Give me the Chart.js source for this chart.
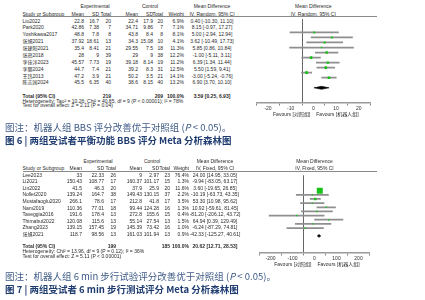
<!DOCTYPE html>
<html><head><meta charset="utf-8">
<script src="https://cdn.jsdelivr.net/npm/chart.js@4"></script>
<style>
html,body{margin:0;padding:0;}
body{width:425px;height:300px;background:#fff;position:relative;overflow:hidden;font-family:"Liberation Sans",Arial,"Noto Sans CJK SC",sans-serif;}
.t{position:absolute;font-size:5px;color:#2a2a2a;white-space:nowrap;line-height:1;}
.b{font-weight:bold;}
.cap{position:absolute;font-family:"Noto Sans CJK SC","Noto Sans",sans-serif;font-size:9.5px;white-space:nowrap;line-height:1;transform:translateY(-50%);}
.c1{color:#3e5a86;}
.c2{color:#1f3c70;font-weight:bold;}
.rule{position:absolute;height:0.8px;background:#8a8a8a;}
canvas{position:absolute;}
</style>
</head><body>
<canvas id="f6" width="140" height="100" style="left:240px;top:16.5px;"></canvas>
<canvas id="f7" width="140" height="96" style="left:240px;top:170.8px;"></canvas>
<script>
// ---------- Figure 6 data (BBS, random effects) ----------
const studies6 = ["Liu2022","Park2020","Yoshikawa2017","张旭2021","张建阳2021","张燕2018","李佳洋2023","李丽2024","王玮2013","陈志国2024"];
const expMean6 = ["22.8","42.86","48.8","37.92","35.4","28","45.57","44.7","47.2","45.5"];
const expSD6   = ["16.7","7.38","7.8","18.61","8.41","9","7.73","7.4","3.9","6.35"];
const expN6    = ["20","7","8","13","21","39","19","21","21","40"];
const ctlMean6 = ["22.4","34.71","43.8","34.3","29.55","29","39.18","39.2","50.2","38.6"];
const ctlSD6   = ["17.9","9.86","8.4","15.08","7.5","9","8.14","8.3","3.5","8.15"];
const ctlN6    = ["20","7","8","10","18","38","19","31","21","40"];
const weight6  = [6.9,7.1,8.1,4.1,11.3,12.2,11.2,12.5,14.1,13.2];
const md6 = [0.40,8.15,5.00,3.62,5.85,-1.00,6.39,5.50,-3.00,6.90];
const lo6 = [-10.30,-0.97,-2.94,-10.49,0.86,-5.11,1.34,1.59,-5.24,3.70];
const hi6 = [11.10,17.27,12.94,17.73,10.84,3.11,11.44,9.41,-0.76,10.10];
const total6 = {exp:"219", ctl:"209", md:3.59, lo:0.25, hi:6.93};
const ticks6 = [-20,-10,0,10,20];

// ---------- Figure 7 data (6MWT, fixed effects) ----------
const studies7 = ["Lee2023","Li2021","Lin2022","Nollet2020","Mustafaoglu2020","Nam2019","Taveggia2016","Thimabut2022","Zhang2023","张旭2021"];
const expMean7 = ["33","150.43","41.5","139.24","266.1","110.36","191.6","120.08","139.15","118.7"];
const expSD7   = ["22.33","108.77","46.3","164.7","78.6","77.01","178.4","115.6","157.45","98.56"];
const expN7    = ["26","17","20","38","17","18","13","13","19","13"];
const ctlMean7 = ["9","160.37","37.9","149.43","212.8","99.44","272.8","55.14","145.39","161.03"];
const ctlSD7   = ["2.97","101.17","25.9","130.15","41.8","124.28","155.6","27.54","73.42","101.94"];
const ctlN7    = ["23","15","20","37","17","16","15","13","16","13"];
const weight7  = [76.4,1.3,11.6,2.2,3.5,1.3,0.4,1.5,1.0,0.9];
const md7 = [24.00,-9.94,3.60,-10.19,53.30,10.92,-81.20,64.94,-6.24,-42.33];
const lo7 = [14.95,-83.05,-19.65,-63.73,10.98,-59.61,-206.12,0.39,-87.29,-125.27];
const hi7 = [33.05,63.17,26.85,43.35,95.62,81.45,43.72,129.49,74.81,40.61];
const total7 = {exp:"199", ctl:"185", md:20.62, lo:12.71, hi:28.53};
const ticks7 = [-200,-100,0,100,200];

const f2 = v => v.toFixed(2);
const ciText = (m,l,h) => f2(m)+" ["+f2(l)+", "+f2(h)+"]";

function txt(s, x, y, align, cls){
  const d=document.createElement('div');
  d.className='t '+(cls||'');
  d.textContent=s;
  d.style.left=x+'px'; d.style.top=y+'px';
  d.style.transform = align==='r'?'translate(-100%,-50%)':align==='c'?'translate(-50%,-50%)':'translate(0,-50%)';
  document.body.appendChild(d);
  return d;
}
function rule(x1,x2,y){
  const d=document.createElement('div'); d.className='rule';
  d.style.left=x1+'px'; d.style.width=(x2-x1)+'px'; d.style.top=y+'px';
  document.body.appendChild(d);
}
function cap(html,x,y,cls){
  const d=document.createElement('div'); d.className='cap '+cls;
  d.innerHTML=html; d.style.left=x+'px'; d.style.top=y+'px';
  document.body.appendChild(d);
}

function table(L){
  txt("Experimental", L.expC, L.h1, 'c');
  txt("Control", L.ctlC, L.h1, 'c');
  txt("Mean Difference", L.ci, L.h1, 'c');
  txt("Mean Difference", L.plotC, L.h1, 'c');
  txt("Study or Subgroup", L.name, L.h2, 'l');
  txt("Mean", L.c[0], L.h2, 'r'); txt("SD", L.c[1], L.h2, 'r'); txt("Total", L.c[2], L.h2, 'r');
  txt("Mean", L.c[3], L.h2, 'r'); txt("SD", L.c[4], L.h2, 'r'); txt("Total", L.c[5], L.h2, 'r');
  txt("Weight", L.c[6], L.h2, 'r');
  txt(L.method, L.ci, L.h2, 'c');
  txt(L.method, L.plotC, L.h2, 'c');
  rule(L.name, L.ruleEnd, L.rule);
  for(let i=0;i<L.studies.length;i++){
    const y=L.row0+L.dy*i;
    txt(L.studies[i], L.name, y, 'l');
    const vals=[L.em[i],L.es[i],L.en[i],L.cm[i],L.cs[i],L.cn[i],L.w[i].toFixed(1)+"%"];
    vals.forEach((v,k)=>txt(v, L.c[k], y, 'r'));
    txt(ciText(L.md[i],L.lo[i],L.hi[i]), L.ci, y, 'c');
  }
  txt("Total (95% CI)", L.name, L.tot, 'l', 'b');
  txt(L.total.exp, L.c[2], L.tot, 'r', 'b');
  txt(L.total.ctl, L.c[5], L.tot, 'r', 'b');
  txt("100.0%", L.c[6], L.tot, 'r', 'b');
  txt(ciText(L.total.md,L.total.lo,L.total.hi), L.ci, L.tot, 'c', 'b');
  txt(L.het, L.name, L.hetY, 'l');
  txt(L.test, L.name, L.testY, 'l');
  txt("Favours [对照组]", L.plotC-3, L.fav, 'r');
  txt("Favours [机器人组]", L.plotC+3, L.fav, 'l');
}

table({studies:studies6, em:expMean6, es:expSD6, en:expN6, cm:ctlMean6, cs:ctlSD6, cn:ctlN6, w:weight6, md:md6, lo:lo6, hi:hi6, total:total6,
  name:22.5, c:[84,99,111,138,153,163,184], ci:212, plotC:313.3, expC:95, ctlC:150,
  h1:6, h2:13.5, rule:16.2, ruleEnd:377, row0:20.5, dy:6.88, tot:96, hetY:100.8, testY:105.4, fav:114,
  method:"IV, Random, 95% CI",
  het:"Heterogeneity: Tau² = 10.26; Chi² = 40.85, df = 9 (P < 0.00001); I² = 78%",
  test:"Test for overall effect: Z = 2.11 (P = 0.04)"});

table({studies:studies7, em:expMean7, es:expSD7, en:expN7, cm:ctlMean7, cs:ctlSD7, cn:ctlN7, w:weight7, md:md7, lo:lo7, hi:hi7, total:total7,
  name:22.5, c:[82,104,116,142,159,170,189], ci:215, plotC:314.5, expC:98, ctlC:152,
  h1:161, h2:168, rule:170.5, ruleEnd:377, row0:174.8, dy:6.55, tot:246.3, hetY:251, testY:255.6, fav:263.7,
  method:"IV, Fixed, 95% CI",
  het:"Heterogeneity: Chi² = 13.96, df = 9 (P = 0.12); I² = 36%",
  test:"Test for overall effect: Z = 5.11 (P < 0.00001)"});

cap('图注：机器人组 BBS 评分改善优于对照组 (<i>P</i> &lt; 0.05)。', 5, 128, 'c1');
cap('图 6 | 两组受试者平衡功能 BBS 评分 Meta 分析森林图', 5, 141, 'c2');
cap('图注：机器人组 6 min 步行试验评分改善优于对照组 (<i>P</i> &lt; 0.05)。', 5, 277, 'c1');
cap('图 7 | 两组受试者 6 min 步行测试评分 Meta 分析森林图', 5, 290, 'c2');

function forest(id, o){
  const rows = o.md.map((_,i)=>i);
  const side = w => Math.max(1.4, o.sq*Math.sqrt(w/o.wmax));
  new Chart(document.getElementById(id), {
    type:'bar',
    data:{datasets:[
      {type:'bar', indexAxis:'y', data:rows.map(i=>({y:i, x:[o.lo[i], o.hi[i]]})),
       backgroundColor:'#8f8f8f', barThickness:1.1, order:3},
      {type:'scatter', data:rows.map(i=>({x:o.md[i], y:i})),
       pointStyle:'rect', pointRadius:rows.map(i=>side(o.w[i])/1.4142), pointHoverRadius:0,
       backgroundColor:'#19c219', borderWidth:0, order:1},
      {type:'line', data:[{x:o.total.lo,y:o.ty},{x:o.total.md,y:o.ty-o.dh},{x:o.total.hi,y:o.ty},{x:o.total.md,y:o.ty+o.dh},{x:o.total.lo,y:o.ty}],
       borderColor:'#000', backgroundColor:'#000', borderWidth:0.6, pointRadius:0, fill:'shape', tension:0, order:0}
    ]},
    options:{
      responsive:false, animation:false, devicePixelRatio:1,
      layout:{padding:{left:o.padL, right:o.padR, top:0, bottom:0}},
      plugins:{legend:{display:false}, tooltip:{enabled:false}},
      scales:{
        x:{type:'linear', min:o.ticks[0], max:o.ticks[o.ticks.length-1],
           afterBuildTicks: s => { s.ticks = o.ticks.map(v=>({value:v})); },
           afterFit: s => { s.height = 14; },
           ticks:{font:{size:5, family:'Liberation Sans'}, color:'#333', padding:0.5, maxRotation:0, autoSkip:false},
           grid:{color: c => (c.tick && c.tick.value===0) ? '#555' : 'rgba(0,0,0,0)', lineWidth:0.9,
                 tickColor:'#777', tickLength:2.5, drawOnChartArea:true},
           border:{color:'#9a9a9a', width:1.5}},
        y:{type:'linear', reverse:true, min:o.ymin, max:o.ymax, display:false}
      }
    }
  });
}

forest('f6', {md:md6, lo:lo6, hi:hi6, w:weight6, wmax:14.1, sq:2.8, total:total6, ticks:ticks6,
  ty:11, dh:0.3, ymin:-0.58, ymax:11.93, padL:16.7, padR:10});
forest('f7', {md:md7, lo:lo7, hi:hi7, w:weight7, wmax:76.4, sq:6, total:total7, ticks:ticks7,
  ty:10.9, dh:0.35, ymin:-0.6, ymax:11.9, padL:19.5, padR:10.5});
</script>
</body></html>
